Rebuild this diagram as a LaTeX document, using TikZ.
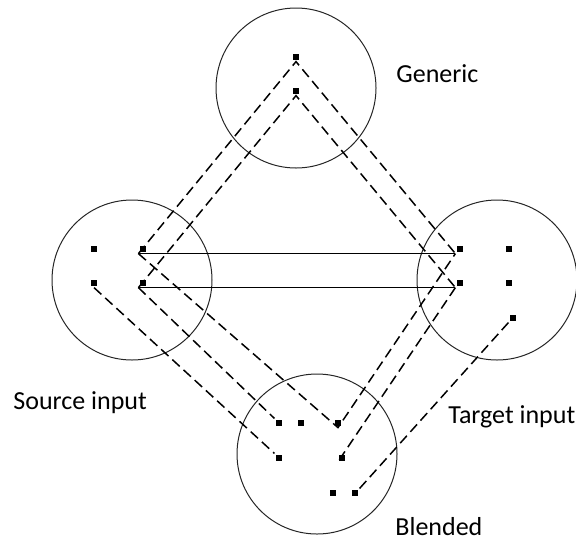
\documentclass[tikz,border=0pt]{standalone}
\usepackage{fontspec}
\setmainfont{Carlito}
\usepackage{tikz}
\tikzstyle{space} = [circle, minimum size=80pt, inner sep=0, draw=black!85, line width=0.5pt]
\tikzstyle{dot} = [rectangle, fill=black, minimum size=3pt, inner sep=0, outer sep=0.8pt]
\tikzstyle{label} = [anchor=base west, inner sep=0, font=\fontsize{13}{15}\selectfont]
\tikzstyle{link} = [black, line width=0.55pt]
\tikzstyle{map} = [black, line width=0.75pt, dash pattern=on 5pt off 2.6pt]

\begin{document}
\begin{tikzpicture}[x=0.5pt, y=-0.5pt]
\useasboundingbox (0,0) rectangle (576,541);

% the four spaces
\node (gen) [space] at (296,88) {};
\node (src) [space] at (132,280) {};
\node (tgt) [space] at (497,280) {};
\node (blend) [space] at (317,454) {};

\node (genl) [label] at (396,82) {Generic};
\node (srcl) [label] at (13,409) {Source input};
\node (tgtl) [label] at (448,423) {Target input};
\node (blendl) [label] at (395,535) {Blended};

% elements
\node (g1) [dot] at (296,57) {};
\node (g2) [dot] at (296,91) {};

\node (s1) [dot] at (94,249) {};
\node (s2) [dot] at (143,249) {};
\node (s3) [dot] at (94,283) {};
\node (s4) [dot] at (143,283) {};

\node (t1) [dot] at (460,249) {};
\node (t2) [dot] at (509,249) {};
\node (t3) [dot] at (460,283) {};
\node (t4) [dot] at (509,283) {};
\node (t5) [dot] at (513,318) {};

\node (b1) [dot] at (279,423) {};
\node (b2) [dot] at (301,423) {};
\node (b3) [dot] at (338,423) {};
\node (b4) [dot] at (279,458) {};
\node (b5) [dot] at (342,458) {};
\node (b6) [dot] at (333,493) {};
\node (b7) [dot] at (355,493) {};

% cross-space mapping
\draw [link] (s2.south west) -- (t1.south west);
\draw [link] (s4.south west) -- (t3.south west);

% projections
\draw [map] (s2.south west) -- (g1.south) -- (t1.south west);
\draw [map] (s4.south west) -- (g2.south) -- (t3.south west);
\draw [map] (s2.south west) -- (b3.south) -- (t1.south west);
\draw [map] (s4.south west) -- (b1.north west);
\draw [map] (s3.south) -- (b4.north west);
\draw [map] (t3.south west) -- (b5.south west);
\draw [map] (t5.south west) -- (b7.north east);

\end{tikzpicture}
\end{document}
